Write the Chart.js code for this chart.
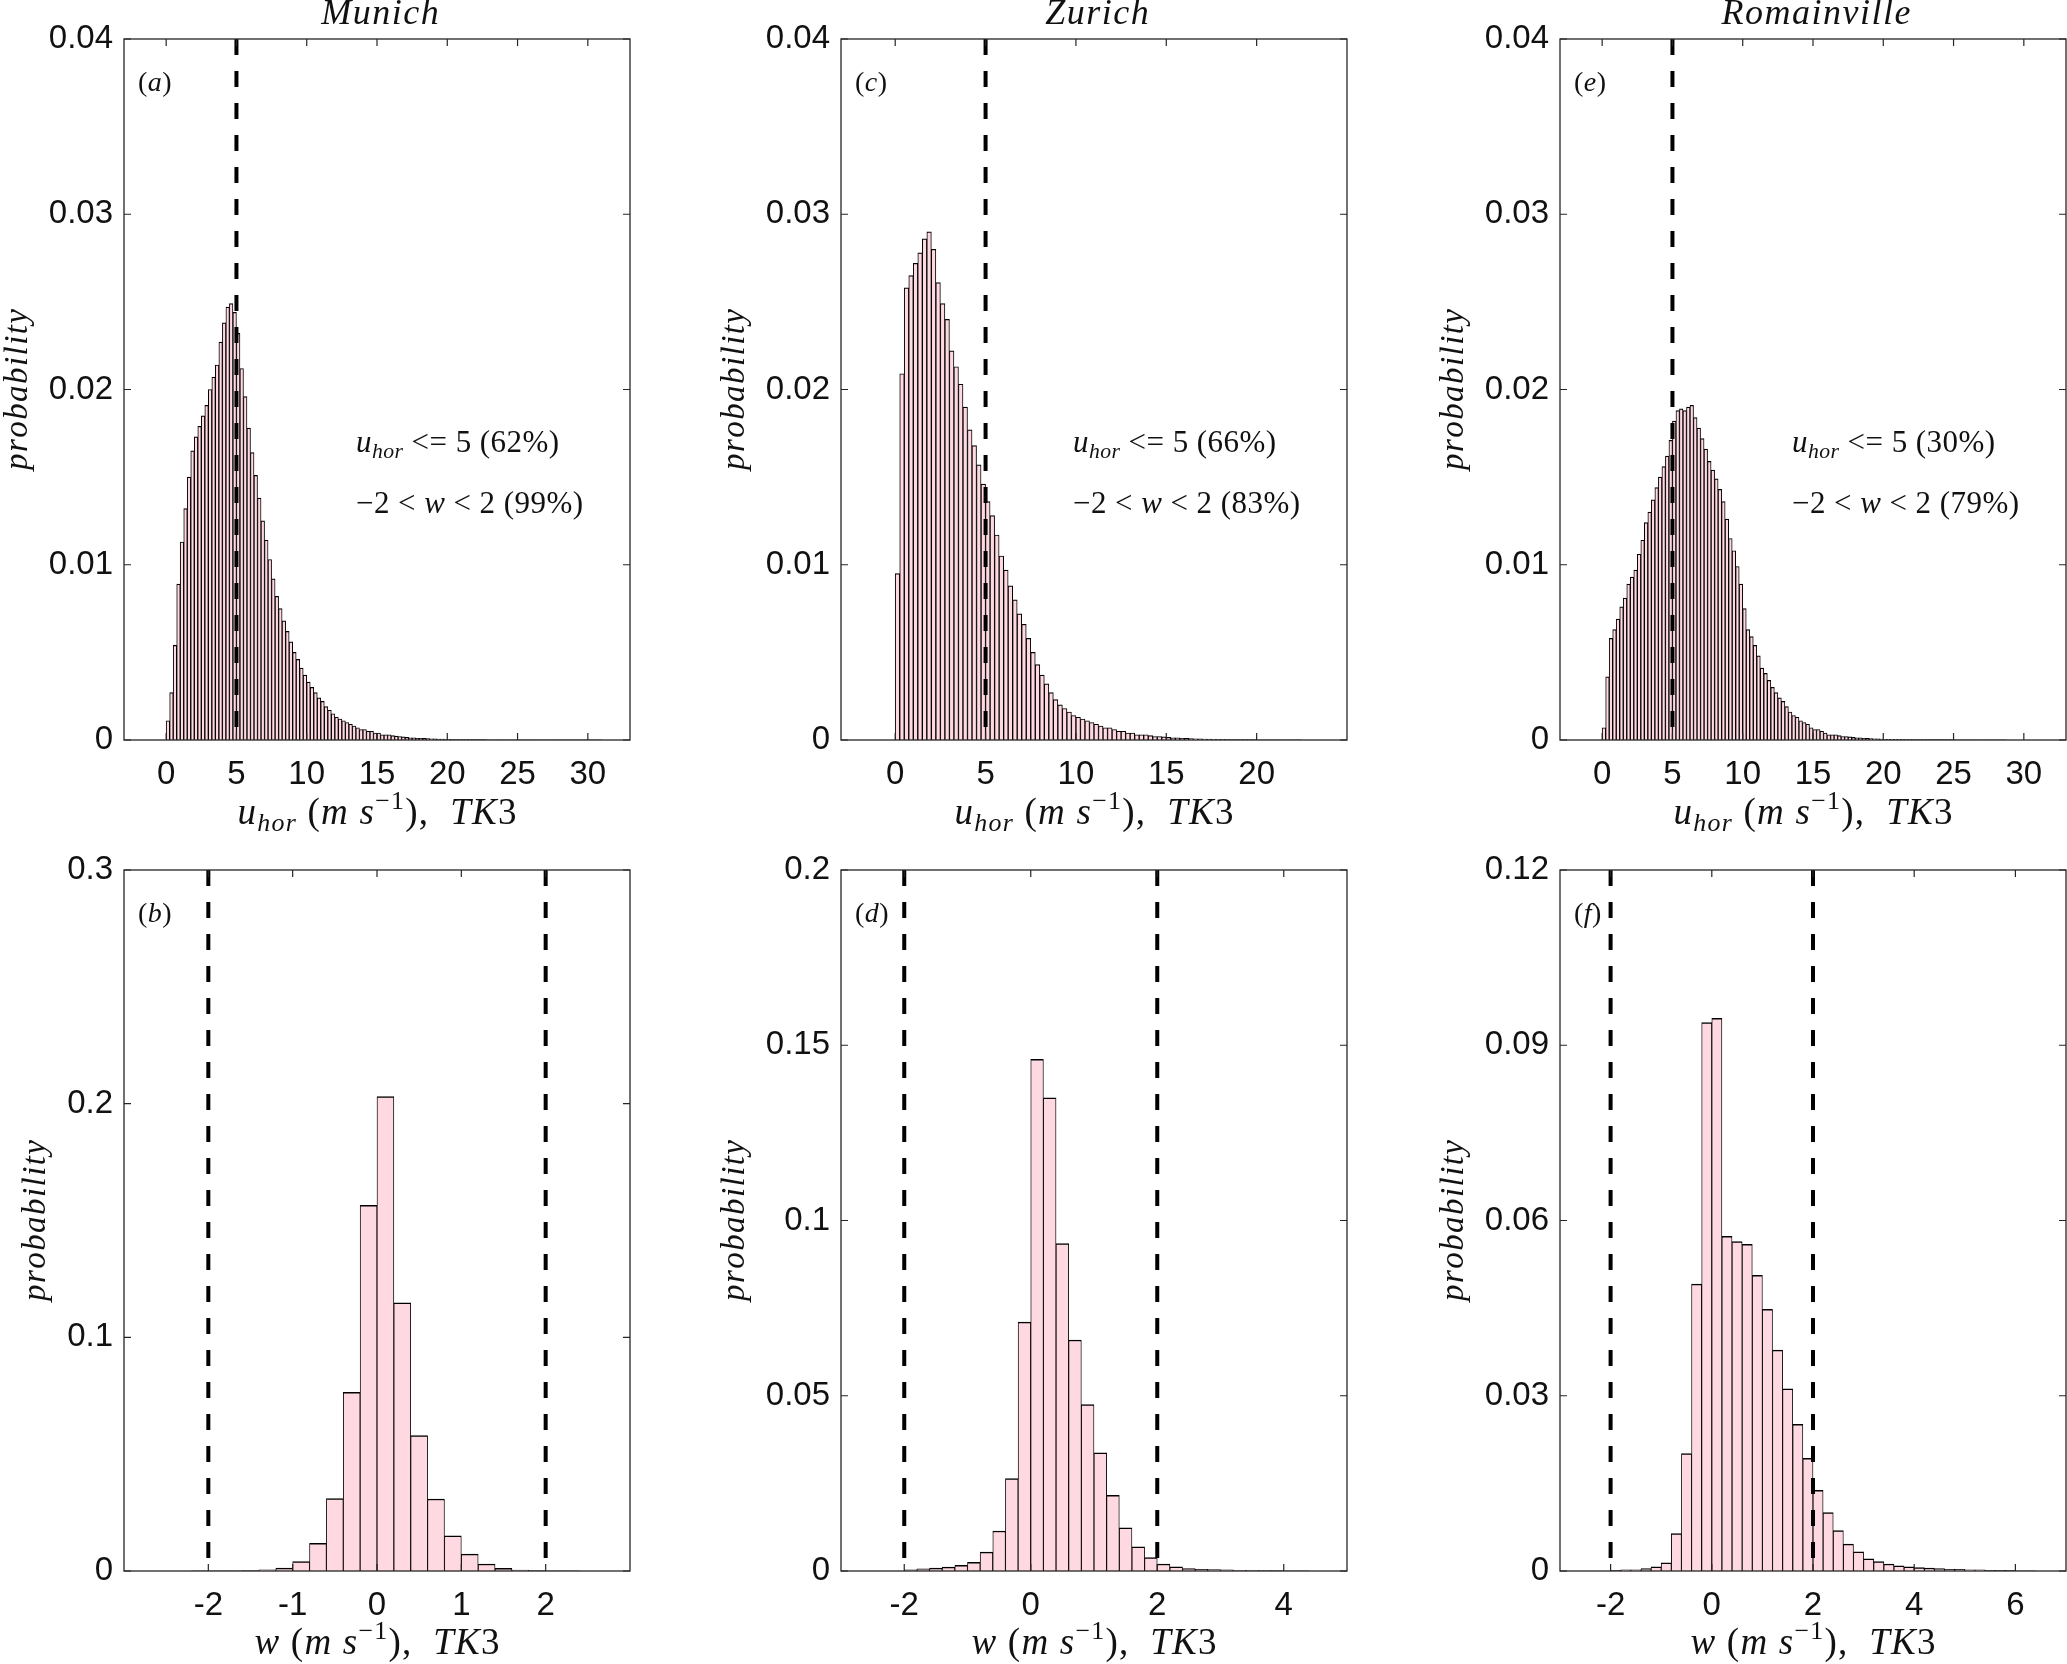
<!DOCTYPE html>
<html><head><meta charset="utf-8">
<script src="https://cdn.jsdelivr.net/npm/chart.js@4.4.1/dist/chart.umd.min.js"></script>
<style>
html,body{margin:0;padding:0;background:#fff;overflow:hidden;width:2067px;height:1664px;}
canvas{position:absolute;}
</style></head><body>
<canvas id="pa"></canvas><canvas id="pc"></canvas><canvas id="pe"></canvas>
<canvas id="pb"></canvas><canvas id="pd"></canvas><canvas id="pf"></canvas>
<script>
// ---------------- DATA ----------------
const cities = ['Munich', 'Zurich', 'Romainville'];
const panelLetters = ['a', 'c', 'e', 'b', 'd', 'f'];
const uPercent = ['62%', '66%', '30%'];
const wPercent = ['99%', '83%', '79%'];
const uThreshold = [5];
const wLimits = [-2, 2];

// horizontal wind speed histograms (bins of 0.25 m/s starting at 0)
const uBinStart = 0;
const uBinWidth = 0.25;
const munichU = [
  0.0011,0.0027,0.0054,0.0089,0.0113,0.0132,0.0150,0.0165,0.0173,0.0179,
  0.0185,0.0191,0.0200,0.0207,0.0214,0.0227,0.0238,0.0247,0.0249,0.0244,
  0.0232,0.0212,0.0196,0.0178,0.0164,0.0151,0.0138,0.0125,0.0114,0.0103,
  0.0092,0.0082,0.0075,0.0068,0.0062,0.0056,0.0050,0.0046,0.0041,0.0037,
  0.0033,0.0030,0.0027,0.0024,0.0022,0.0019,0.0017,0.0015,0.0013,0.0012,
  0.0011,0.0010,0.0009,0.0008,0.0007,0.0006,0.0006,0.0005,0.0005,0.0004,
  0.0004,0.0003,0.0003,0.0003,0.00025,0.00022,0.0002,0.00018,0.00015,0.00013,
  0.00012,0.0001,0.0001,0.00009,0.00008,0.00007,0.00006,0.00005,0.00005,0.00004,
  0.00004,0.00003,0.00003,0.00003,0.00003,0.00002,0.00002,0.00002,0.00002,0.00002,
  0.00002,0.00001,0.00001,0.00001,0.00001,0.00001,0.00001,0.00001,0.00001,0.00001,
  0.00001,0.00001,0.00001,0.00001,0.00001,0.00001,0.00001,0.00001,0.00001,0.00001,
  0.000005,0.000005,0.000005,0.000005,0.000005,0.000005,0.000005,0.000005,0.000005,0.000005,
  0.000005,0.000005,0.000005,0.000005
];
const zurichU = [
  0.0095,0.0209,0.0258,0.0265,0.0272,0.0278,0.0286,0.0290,0.0280,0.0261,
  0.0249,0.0240,0.0222,0.0213,0.0203,0.0190,0.0177,0.0168,0.0157,0.0146,
  0.0136,0.0128,0.0117,0.0105,0.0097,0.0088,0.0080,0.0072,0.0066,0.0058,
  0.0050,0.0043,0.0037,0.0032,0.0027,0.0023,0.0020,0.0018,0.0016,0.0014,
  0.0013,0.0012,0.0011,0.0010,0.0009,0.0008,0.0007,0.0007,0.0006,0.0005,
  0.0005,0.0004,0.0004,0.0003,0.0003,0.0003,0.00025,0.0002,0.0002,0.00018,
  0.00015,0.00013,0.00012,0.0001,0.00009,0.00008,0.00007,0.00006,0.00005,0.00005,
  0.00004,0.00004,0.00004,0.00003,0.00003,0.00003,0.00002,0.00002,0.00002,0.00002,
  0.00001,0.00001,0.00001,0.00001,0.00001,0.00001,0.00001,0.00001,0.00001,0.00001
];
const romainvilleU = [
  0.0007,0.0036,0.0058,0.0063,0.0069,0.0076,0.0081,0.0089,0.0093,0.0097,
  0.0106,0.0114,0.0124,0.0130,0.0137,0.0144,0.0150,0.0156,0.0162,0.0171,
  0.0182,0.0188,0.0189,0.0188,0.0190,0.0191,0.0184,0.0178,0.0172,0.0166,
  0.0159,0.0154,0.0149,0.0143,0.0136,0.0126,0.0115,0.0108,0.0099,0.0089,
  0.0075,0.0063,0.0059,0.0054,0.0048,0.0041,0.0038,0.0034,0.0030,0.0027,
  0.0024,0.0022,0.0019,0.0016,0.0014,0.0013,0.0011,0.0010,0.0009,0.0007,
  0.0006,0.0006,0.0005,0.0004,0.0003,0.0003,0.0003,0.00025,0.0002,0.0002,
  0.00018,0.00015,0.00013,0.00012,0.0001,0.00009,0.00008,0.00007,0.00006,0.00005,
  0.00004,0.00004,0.00004,0.00004,0.00004,0.00004,0.00003,0.00003,0.00003,0.00003,
  0.00002,0.00002,0.00002,0.00002,0.00002,0.00002,0.00002,0.00002,0.00002,0.00002,
  0.00001,0.00001,0.00001,0.00001,0.00001,0.00001,0.00001,0.00001,0.00001,0.00001,
  0.00001,0.00001,0.00001,0.00001,0.00001
];

// vertical wind histograms (bins of 0.2 m/s)
const wBinWidth = 0.2;
const wBinStart = [-2.2, -2.0, -2.0];
const munichW = [
  0.00005,0.0001,0.0001,0.0002,0.0005,0.0012,0.0040,0.0118,0.0310,0.0765,0.1565,
  0.2030,0.1148,0.0580,0.0308,0.0150,0.0072,0.0030,0.0011,0.0004,0.0002,0.0001,0.00005
];
const zurichW = [
  0.0003,0.0006,0.0008,0.0011,0.0016,0.0025,0.0054,0.0114,0.0264,0.0710,
  0.1460,0.1350,0.0934,0.0659,0.0475,0.0337,0.0216,0.0123,0.0069,0.0038,
  0.0020,0.0012,0.0007,0.0005,0.0004,0.0003,0.0002,0.0002,0.0001,0.0001,
  0.00005,0.00005
];
const romainvilleW = [
  0.0001,0.0002,0.0002,0.0004,0.0007,0.0014,0.0064,0.0201,0.0491,0.0939,
  0.0946,0.0573,0.0564,0.0559,0.0506,0.0448,0.0378,0.0312,0.0251,0.0193,
  0.0138,0.0100,0.0069,0.0046,0.0033,0.0021,0.0016,0.0012,0.0009,0.0007,
  0.0006,0.0005,0.0004,0.0003,0.0003,0.0002,0.0002,0.0001,0.0001,0.0001,
  0.00005,0.00005
];

// axes
const uXRange = [[-3, 33], [-3, 25], [-3, 33]];
const uXTicks = [[0,5,10,15,20,25,30], [0,5,10,15,20], [0,5,10,15,20,25,30]];
const uYMax = 0.04;
const uYTicks = [0, 0.01, 0.02, 0.03, 0.04];
const uYTickLabels = ['0', '0.01', '0.02', '0.03', '0.04'];
const wXRange = [[-3, 3], [-3, 5], [-3, 7]];
const wXTicks = [[-2,-1,0,1,2], [-2,0,2,4], [-2,0,2,4,6]];
const wYMax = [0.3, 0.2, 0.12];
const wYTicks = [[0,0.1,0.2,0.3], [0,0.05,0.1,0.15,0.2], [0,0.03,0.06,0.09,0.12]];
const wYTickLabels = [['0','0.1','0.2','0.3'], ['0','0.05','0.1','0.15','0.2'], ['0','0.03','0.06','0.09','0.12']];

// ---------------- LAYOUT / STYLE ----------------
const COLS = [124, 841, 1560];
const ROWS = [39, 870];
const PLOT_W = 506, PLOT_H = 701, AXIS_W = 124, TOP_PAD = 39;
const SERIF = "'Liberation Serif','DejaVu Serif',serif";
const SANS = "'Liberation Sans','Arimo',Arial,sans-serif";
const TICK_FONT = 33;
const INK = '#262626';
const FILL = 'rgb(255,217,225)';
const it = s => 'italic ' + s + 'px ' + SERIF;
const rm = s => s + 'px ' + SERIF;

function richText(ctx, segs, x, y, align, opt) {
  const items = []; let W = 0;
  for (const s of segs) {
    ctx.font = s.f;
    for (const ch of s.t) { const w = ctx.measureText(ch).width; items.push({ch, f: s.f, dy: s.dy || 0, w}); W += w; }
  }
  const N = items.length;
  let ls = (opt && opt.ls) || 0;
  if (opt && opt.target && N > 1) ls = Math.max(-1.5, Math.min(8, (opt.target - W) / (N - 1)));
  const total = W + ls * (N - 1);
  let cx = align === 'center' ? x - total / 2 : x;
  ctx.textAlign = 'left'; ctx.textBaseline = 'alphabetic';
  for (const t of items) { ctx.font = t.f; ctx.fillText(t.ch, cx, y + t.dy); cx += t.w + ls; }
}

function makeDecor(p) {
  return {
    id: 'decor' + p.letter,
    afterDraw(chart) {
      const ctx = chart.ctx, a = chart.chartArea;
      const xs = chart.scales.x, ys = chart.scales.y;
      ctx.save();
      ctx.strokeStyle = INK; ctx.fillStyle = INK;
      // inward ticks on all four sides
      ctx.lineWidth = 1.2;
      ctx.beginPath();
      for (const v of p.xTicks) { const px = xs.getPixelForValue(v);
        ctx.moveTo(px, a.bottom); ctx.lineTo(px, a.bottom - 7);
        ctx.moveTo(px, a.top); ctx.lineTo(px, a.top + 7); }
      for (const v of p.yTicks) { const py = ys.getPixelForValue(v);
        ctx.moveTo(a.left, py); ctx.lineTo(a.left + 7, py);
        ctx.moveTo(a.right, py); ctx.lineTo(a.right - 7, py); }
      ctx.stroke();
      // box
      ctx.lineWidth = 1.3;
      ctx.strokeRect(a.left, a.top, a.right - a.left, a.bottom - a.top);
      const cx = (a.left + a.right) / 2;
      ctx.fillStyle = '#111';
      // title
      if (p.title) richText(ctx, [{t: p.title, f: it(36)}], cx + 3, a.top - 15, 'center', {ls: 1.5});
      // panel letter
      richText(ctx, [{t: '(', f: rm(28)}, {t: p.letter, f: it(28)}, {t: ')', f: rm(28)}], a.left + 14, a.top + 52, 'left', {ls: 0.5});
      // notes
      if (p.notes) {
        richText(ctx, [{t: 'u', f: it(31)}, {t: 'hor', f: it(21.7), dy: 5.5}, {t: ' <= 5 (' + p.notes[0] + ')', f: rm(31)}],
          a.left + 232, a.top + 413, 'left', {target: 203});
        richText(ctx, [{t: '\u22122 < ', f: rm(31)}, {t: 'w', f: it(31)}, {t: ' < 2 (' + p.notes[1] + ')', f: rm(31)}],
          a.left + 232, a.top + 474, 'left', {target: 227});
      }
      // x title
      const S = 37;
      const head = p.kind === 'u'
        ? [{t: 'u', f: it(S)}, {t: 'hor', f: it(S * 0.7), dy: S * 0.18}]
        : [{t: 'w', f: it(S)}];
      const tail = [{t: ' (', f: rm(S)}, {t: 'm', f: it(S)}, {t: ' ', f: rm(S)}, {t: 's', f: it(S)},
        {t: '\u22121', f: rm(S * 0.7), dy: -S * 0.4}, {t: '),  ', f: rm(S)}, {t: 'TK', f: it(S)}, {t: '3', f: rm(S)}];
      richText(ctx, head.concat(tail), cx, a.bottom + (p.kind === 'u' ? 84 : 83), 'center', {target: p.kind === 'u' ? 279 : 245});
      // y title
      ctx.font = TICK_FONT + 'px ' + SANS;
      let mw = 0; for (const l of p.yLabels) mw = Math.max(mw, ctx.measureText(l).width);
      const ycx = a.left - 11 - mw - 30;
      ctx.translate(ycx, (a.top + a.bottom) / 2);
      ctx.rotate(-Math.PI / 2);
      richText(ctx, [{t: 'probability', f: it(33)}], 0, 8, 'center', {target: 161});
      ctx.restore();
    }
  };
}

function makePanel(canvasId, p, col, row) {
  const cv = document.getElementById(canvasId);
  const left = COLS[col] - AXIS_W, top = ROWS[row] - TOP_PAD;
  const width = Math.min(636, 2067 - left);
  const height = row === 0 ? 840 : 1664 - top;
  cv.width = width; cv.height = height;
  cv.style.left = left + 'px'; cv.style.top = top + 'px';
  cv.style.width = width + 'px'; cv.style.height = height + 'px';
  const bars = p.values.map((v, i) => ({x: p.binStart + (i + 0.5) * p.binWidth, y: v}));
  const dashSets = p.dashes.map(d => ({
    type: 'line', data: [{x: d, y: p.yMax}, {x: d, y: 0}], borderColor: '#000', borderWidth: 4,
    borderDash: [16, 16], borderCapStyle: 'butt', pointRadius: 0, fill: false, order: 0
  }));
  const bw = p.kind === 'u' ? {top: 1.2, left: 1.0, right: 1.0, bottom: 0} : {top: 1.5, left: 0.9, right: 0.9, bottom: 0};
  new Chart(cv, {
    type: 'bar',
    data: {datasets: dashSets.concat([{
      type: 'bar', data: bars, backgroundColor: FILL, borderColor: '#000', borderWidth: bw,
      barPercentage: 1, categoryPercentage: 1, grouped: false, order: 1
    }])},
    options: {
      responsive: false, animation: false, events: [],
      layout: {padding: {top: TOP_PAD, left: 0, bottom: 0, right: width - AXIS_W - PLOT_W}},
      plugins: {legend: {display: false}, tooltip: {enabled: false}, title: {display: false}},
      scales: {
        x: {
          type: 'linear', min: p.xMin, max: p.xMax, offset: false,
          grid: {display: false, drawTicks: false, offset: false}, border: {display: false},
          ticks: {font: {family: SANS, size: TICK_FONT}, color: '#111', padding: 15, maxRotation: 0, autoSkip: false,
            callback: v => String(v)},
          afterBuildTicks: s => { s.ticks = p.xTicks.map(v => ({value: v})); },
          afterFit: s => { s.height = height - TOP_PAD - PLOT_H; }
        },
        y: {
          type: 'linear', min: 0, max: p.yMax,
          grid: {display: false, drawTicks: false}, border: {display: false},
          ticks: {font: {family: SANS, size: TICK_FONT}, color: '#111', padding: 11,
            callback: (v) => { const k = p.yTicks.findIndex(t => Math.abs(t - v) < 1e-9); return k >= 0 ? p.yLabels[k] : ''; }},
          afterBuildTicks: s => { s.ticks = p.yTicks.map(v => ({value: v})); },
          afterFit: s => { s.width = AXIS_W; }
        }
      }
    },
    plugins: [makeDecor(p)]
  });
}

const uData = [munichU, zurichU, romainvilleU];
const wData = [munichW, zurichW, romainvilleW];
const topIds = ['pa', 'pc', 'pe'], botIds = ['pb', 'pd', 'pf'];
for (let c = 0; c < 3; c++) {
  makePanel(topIds[c], {
    kind: 'u', values: uData[c], binStart: uBinStart, binWidth: uBinWidth,
    xMin: uXRange[c][0], xMax: uXRange[c][1], xTicks: uXTicks[c],
    yMax: uYMax, yTicks: uYTicks, yLabels: uYTickLabels,
    dashes: uThreshold, title: cities[c], letter: panelLetters[c], notes: [uPercent[c], wPercent[c]]
  }, c, 0);
  makePanel(botIds[c], {
    kind: 'w', values: wData[c], binStart: wBinStart[c], binWidth: wBinWidth,
    xMin: wXRange[c][0], xMax: wXRange[c][1], xTicks: wXTicks[c],
    yMax: wYMax[c], yTicks: wYTicks[c], yLabels: wYTickLabels[c],
    dashes: wLimits, title: null, letter: panelLetters[c + 3], notes: null
  }, c, 1);
}
</script>
</body></html>
